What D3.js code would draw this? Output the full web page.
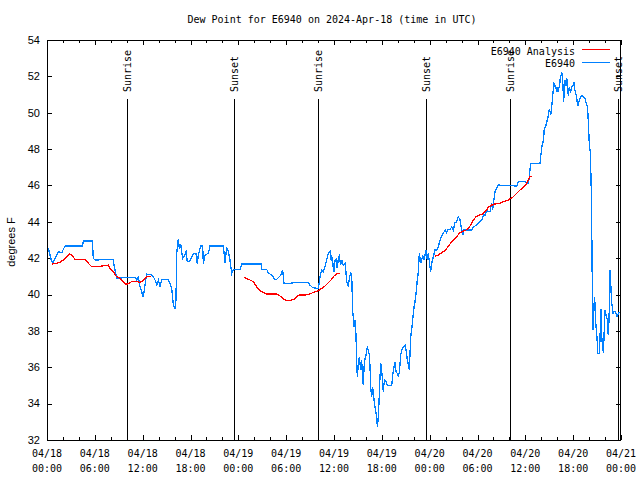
<!DOCTYPE html>
<html><head><meta charset="utf-8">
<script src="https://cdnjs.cloudflare.com/ajax/libs/d3/7.8.5/d3.min.js"></script>
<style>body{margin:0;background:#fff}svg{display:block}</style>
</head><body>
<svg id="chart" width="640" height="480"></svg>
<script>
// ---- DATA (hours since 2024-04-18 00:00 UTC) ----
const titleText = "Dew Point for E6940 on 2024-Apr-18 (time in UTC)";
const yLabelText = "degrees F";
const yTicks = [32,34,36,38,40,42,44,46,48,50,52,54];
const seriesNames = ["E6940 Analysis", "E6940"];

const obsHours = [0.17,0.59,0.79,1.42,1.84,2.26,4.47,4.56,5.69,5.81,6.02,8.32,8.40,8.66,8.74,9.16,9.99,11.04,11.25,11.46,11.67,12.08,12.29,12.50,13.13,13.34,13.55,13.76,13.97,14.17,14.38,14.80,15.22,15.43,15.64,15.85,16.06,16.18,16.27,16.47,16.60,16.77,17.02,17.19,17.44,17.60,17.85,18.15,18.44,18.69,18.86,18.98,19.28,19.53,19.61,19.82,20.24,20.45,22.12,22.33,22.54,22.75,22.95,23.17,23.37,24.21,24.42,26.93,26.95,27.56,27.76,28.18,28.60,28.81,29.23,29.44,29.56,29.64,29.73,30.48,30.90,32.78,32.99,33.32,33.83,34.04,34.24,34.45,34.66,34.87,35.08,35.29,35.50,35.62,35.71,35.83,35.92,36.00,36.13,36.25,36.34,36.42,36.54,36.67,36.84,36.96,37.17,37.38,37.50,37.59,37.67,37.80,37.92,38.09,38.22,38.34,38.51,38.64,38.76,38.84,38.93,39.05,39.18,39.35,39.47,39.60,39.68,39.77,39.89,40.02,40.18,40.31,40.43,40.52,40.60,40.73,40.85,41.02,41.14,41.35,41.44,41.56,41.69,41.77,41.86,41.98,42.11,42.19,42.27,42.40,42.52,42.69,42.82,43.24,43.36,43.53,43.66,43.78,43.95,44.07,44.20,44.37,44.49,44.70,44.91,45.03,45.20,45.33,45.45,45.53,45.62,45.74,45.87,46.04,46.16,46.29,46.45,46.58,46.70,46.87,47.00,47.12,47.29,47.54,47.71,47.83,48.04,48.13,48.25,48.46,48.67,48.89,49.09,49.30,49.51,49.72,49.93,50.13,50.34,50.55,50.76,50.97,51.18,51.39,51.60,51.81,52.02,52.22,52.31,53.27,53.48,53.69,53.90,54.32,54.53,54.74,54.94,55.15,55.36,55.57,55.78,55.91,55.99,56.20,56.41,56.49,56.62,58.92,59.13,59.96,60.17,60.38,60.50,60.67,61.84,61.90,62.10,62.30,62.35,62.60,62.90,63.00,63.20,63.30,63.50,63.60,63.70,63.90,64.00,64.10,64.30,64.40,64.60,64.70,64.80,64.90,65.00,65.10,65.20,65.30,65.40,65.50,65.70,65.80,66.00,66.10,66.20,66.40,66.50,66.60,66.90,67.10,67.30,67.50,67.60,67.80,67.90,68.00,68.10,68.15,68.30,68.40,68.50,68.60,68.70,68.80,69.00,69.05,69.30,69.40,69.50,69.60,69.70,69.80,69.90,70.00,70.15,70.30,70.40,70.50,70.60,70.70,70.80,70.90,71.00,71.10,71.30,71.50,71.60,71.80];
const obsValues = [42.54,41.80,41.78,42.36,42.30,42.67,42.67,42.94,42.94,41.99,41.90,41.94,41.62,41.07,40.89,40.90,40.95,40.95,40.80,40.95,40.43,39.85,40.53,41.13,41.07,40.98,40.80,40.53,40.80,40.43,40.80,40.84,40.80,40.62,40.35,39.42,39.19,39.70,42.27,43.04,42.50,42.77,41.99,42.08,42.35,41.80,41.80,42.08,42.27,42.27,41.66,42.17,42.67,42.67,41.70,42.17,42.27,42.67,42.67,41.75,42.60,42.35,41.90,41.17,41.39,41.39,41.68,41.68,41.39,41.39,41.17,41.09,40.80,40.84,41.02,41.20,41.35,41.02,40.62,40.62,40.65,40.65,40.52,40.38,40.34,40.34,40.98,41.35,41.26,41.53,41.90,42.27,42.36,41.90,42.17,41.53,41.62,41.26,41.90,41.94,41.62,41.44,41.99,42.12,41.62,41.90,41.62,41.72,41.26,40.71,40.62,40.43,40.89,41.17,41.08,39.15,38.23,38.60,37.77,36.30,35.48,36.21,36.58,35.85,36.40,35.30,35.02,36.03,36.49,36.67,37.10,36.95,36.67,36.03,34.93,34.38,34.93,34.20,33.83,33.28,32.73,33.28,34.57,35.48,36.21,35.85,35.12,34.65,35.12,35.30,35.21,35.02,34.99,34.99,35.57,36.03,36.30,35.75,35.66,35.48,35.75,36.67,36.95,37.13,37.22,36.95,36.40,36.12,35.85,36.67,37.68,38.05,38.60,39.33,39.60,40.07,40.80,41.26,42.27,41.72,41.90,42.17,41.90,42.45,41.90,42.27,41.53,41.26,41.72,42.08,42.45,42.45,42.63,43.00,43.22,43.37,43.55,43.40,43.59,43.59,43.70,43.55,43.95,44.00,44.28,44.10,43.55,43.27,43.55,43.55,43.70,43.77,43.82,44.00,44.10,44.37,44.37,44.65,44.56,44.56,45.02,44.65,45.02,45.66,45.84,45.90,46.02,45.97,46.21,46.21,46.12,46.12,46.48,47.22,47.22,47.49,48.22,48.50,49.05,49.33,49.87,50.20,49.90,50.30,51.25,51.60,51.50,51.25,51.43,51.15,51.50,51.98,52.20,51.70,50.60,51.15,51.80,51.50,51.90,51.25,50.95,51.35,51.15,51.43,51.53,51.70,51.25,50.95,50.60,50.40,50.85,50.95,50.90,50.75,50.60,50.33,49.50,48.50,47.95,47.95,45.20,40.43,38.05,39.33,39.88,38.60,37.59,36.77,36.77,38.05,39.20,37.60,37.10,36.77,38.05,39.15,38.80,38.60,37.77,38.60,41.35,40.80,39.70,39.33,38.97,39.06,39.06,38.80,38.90,39.06];

// analysis series; null = gap
const anaHours = [0.59,1.21,1.63,2.05,2.47,2.80,3.09,3.51,4.77,5.19,5.60,6.23,7.27,7.69,7.99,8.32,8.66,8.95,9.37,9.79,10.08,10.62,11.25,11.67,11.88,12.08,12.42,12.71,13.00,18.0,24.71,25.25,25.67,25.97,26.30,26.72,27.14,27.56,28.81,29.23,29.56,29.86,30.48,30.98,31.32,31.65,32.36,32.99,33.32,33.62,34.04,34.45,34.87,35.29,35.71,36.00,36.33,36.75,42.0,48.67,49.09,49.51,49.93,50.22,50.55,50.97,51.39,51.73,52.14,52.56,52.85,53.15,53.48,53.81,54.23,54.74,55.07,55.36,55.78,56.20,56.83,57.24,57.87,58.17,58.50,58.92,59.34,59.76,60.17,60.59,60.80];
const anaValues = [41.68,41.72,41.77,41.90,42.08,42.23,42.17,41.94,41.94,41.72,41.53,41.53,41.59,41.62,41.39,41.26,41.02,40.95,40.80,40.58,40.58,40.71,40.71,40.67,40.71,40.80,40.95,41.00,41.00,null,40.95,40.84,40.76,40.65,40.43,40.21,40.10,40.03,40.03,39.92,39.79,39.70,39.66,39.74,39.88,39.97,39.97,40.03,40.10,40.15,40.21,40.34,40.47,40.65,40.84,41.02,41.13,41.17,null,42.12,42.17,42.30,42.41,42.59,42.78,43.00,43.18,43.37,43.46,43.55,43.64,43.82,44.10,44.28,44.37,44.46,44.61,44.80,44.92,44.98,45.02,45.11,45.20,45.29,45.38,45.57,45.75,45.90,46.12,46.48,46.51];

const sunLabels = ["Sunrise","Sunset","Sunrise","Sunset","Sunrise","Sunset"];
const sunHours = [10.05, 23.50, 34.03, 47.50, 58.10, 71.62];

// ---- CHART ----
const W = 640, H = 480;
const m = {left:47, top:40, right:19, bottom:40};
const x0 = Date.UTC(2024,3,18), x1 = Date.UTC(2024,3,21);
const toDate = h => new Date(x0 + h*3600000);
const x = d3.scaleUtc().domain([new Date(x0), new Date(x1)]).range([m.left, W - m.right]);
const y = d3.scaleLinear().domain([32,54]).range([H - m.bottom, m.top]);
const svg = d3.select("#chart");
const mono = "'DejaVu Sans Mono', monospace";
const sans = "'Liberation Sans', Arial, sans-serif";

// frame
svg.append("rect").attr("x", m.left+0.5).attr("y", m.top+0.5)
  .attr("width", W-m.right-m.left-1).attr("height", H-m.bottom-m.top)
  .attr("fill","none").attr("stroke","#000").attr("stroke-width",1);

// y ticks (left and mirrored right, inward)
const gT = svg.append("g").attr("stroke","#000").attr("shape-rendering","crispEdges");
yTicks.forEach(v => {
  const yy = Math.round(y(v)) + 0.5;
  gT.append("line").attr("x1", m.left).attr("x2", m.left+5).attr("y1", yy).attr("y2", yy);
  gT.append("line").attr("x1", W-m.right-5).attr("x2", W-m.right).attr("y1", yy).attr("y2", yy);
});
svg.append("g").selectAll("text").data(yTicks).join("text")
  .attr("x", 40).attr("y", d => y(d)).attr("dy","0.35em")
  .attr("text-anchor","end").attr("font-family", sans).attr("font-size", 11)
  .text(d => d);

// x ticks
const minor = d3.utcHour.every(2).range(new Date(x0), new Date(x1 + 1));
minor.forEach(d => {
  const major = d.getUTCHours() % 6 === 0;
  const len = major ? 5 : 3;
  const xx = Math.round(x(d)) + 0.5;
  gT.append("line").attr("x1", xx).attr("x2", xx).attr("y1", H-m.bottom).attr("y2", H-m.bottom-len);
  gT.append("line").attr("x1", xx).attr("x2", xx).attr("y1", m.top).attr("y2", m.top+len);
});
const majors = d3.utcHour.every(6).range(new Date(x0), new Date(x1 + 1));
const fmtD = d3.utcFormat("%m/%d"), fmtT = d3.utcFormat("%H:%M");
const xl = svg.append("g").attr("font-family", mono).attr("font-size", 10).attr("text-anchor","middle");
majors.forEach(d => {
  xl.append("text").attr("x", x(d)).attr("y", 457).text(fmtD(d));
  xl.append("text").attr("x", x(d)).attr("y", 472).text(fmtT(d));
});

// sunrise/sunset lines
sunHours.forEach((h,i) => {
  const xx = Math.round(x(toDate(h))) + 0.5;
  svg.append("line").attr("x1", xx).attr("x2", xx).attr("y1", 99).attr("y2", H-m.bottom)
    .attr("stroke","#000").attr("stroke-width",1).attr("shape-rendering","crispEdges");
  svg.append("text").attr("transform", `translate(${xx},92) rotate(-90)`)
    .attr("dy","0.35em").attr("font-family", mono).attr("font-size", 10)
    .text(sunLabels[i]);
});

// series lines
const ana = anaHours.map((h,i) => ({t: toDate(h), v: anaValues[i]}));
const obs = obsHours.map((h,i) => ({t: toDate(h), v: obsValues[i]}));
const line = d3.line().defined(d => d.v !== null).x(d => x(d.t)).y(d => y(d.v));
svg.append("path").datum(obs).attr("d", line).attr("fill","none")
  .attr("stroke","#0080ff").attr("stroke-width",1.3).attr("shape-rendering","crispEdges");
svg.append("path").datum(ana).attr("d", line).attr("fill","none")
  .attr("stroke","#ff0000").attr("stroke-width",1.3).attr("shape-rendering","crispEdges");

// legend
const leg = svg.append("g").attr("font-family", mono).attr("font-size", 10);
leg.append("text").attr("x", 575).attr("y", 54.5).attr("text-anchor","end").text(seriesNames[0]);
leg.append("line").attr("x1", 582).attr("x2", 610).attr("y1", 49.5).attr("y2", 49.5).attr("stroke","#ff0000");
leg.append("text").attr("x", 575).attr("y", 67).attr("text-anchor","end").text(seriesNames[1]);
leg.append("line").attr("x1", 582).attr("x2", 610).attr("y1", 62.5).attr("y2", 62.5).attr("stroke","#0080ff");

// title and y label
svg.append("text").attr("x", 332).attr("y", 23).attr("text-anchor","middle")
  .attr("font-family", mono).attr("font-size", 10).text(titleText);
svg.append("text").attr("transform","translate(15,242) rotate(-90)").attr("text-anchor","middle")
  .attr("font-family", sans).attr("font-size", 11).text(yLabelText);
</script>
</body></html>
